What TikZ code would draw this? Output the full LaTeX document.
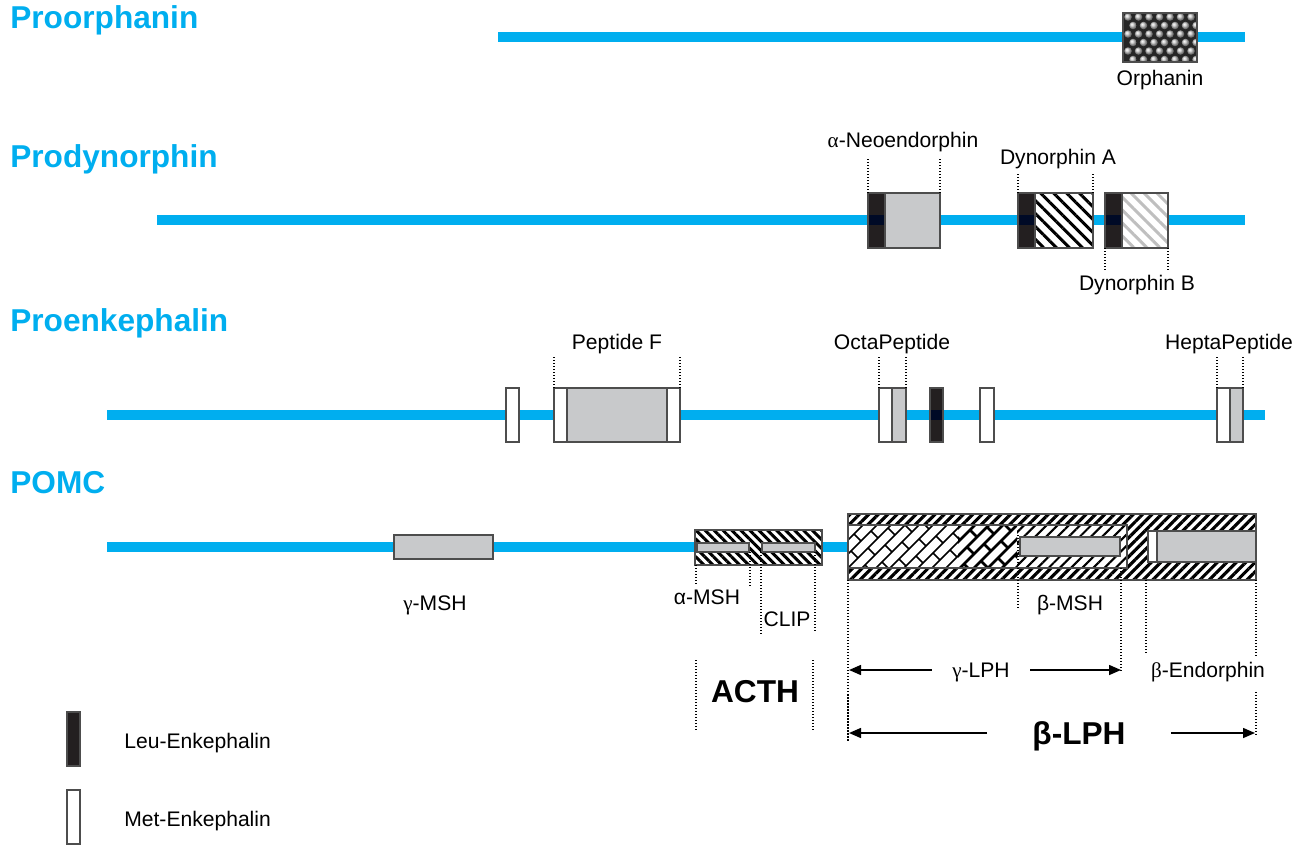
\documentclass[tikz,border=0pt]{standalone}
\usepackage{fontspec}
\setmainfont{Liberation Sans}
\newfontfamily\gr{Liberation Serif}
\usetikzlibrary{patterns.meta,arrows.meta}
\definecolor{cyanline}{HTML}{00AEEF}
\definecolor{boxgray}{HTML}{C8C9CB}
\definecolor{leu}{HTML}{231F20}
\definecolor{edge}{HTML}{4D4D4D}
\definecolor{navy}{HTML}{000A26}
\tikzset{
  chainline/.style={line width=0.2cm, cyanline},
  title/.style={anchor=base west, inner sep=0pt, font=\fontsize{18}{20}\selectfont\bfseries, text=cyanline},
  lbl/.style={anchor=base, inner sep=0pt, font=\fontsize{12}{14}\selectfont},
  big/.style={anchor=base, inner sep=0pt, font=\fontsize{18}{20}\selectfont\bfseries},
  grayb/.style={fill=boxgray, draw=edge, line width=0.03cm},
  leub/.style={fill=leu, draw=edge, line width=0.03cm},
  metb/.style={fill=white, draw=edge, line width=0.03cm},
  guide/.style={densely dotted, line width=0.025cm},
  hatchA/.style={draw=edge, line width=0.03cm, preaction={fill=white}, pattern={Lines[angle=-45,distance=5.2pt,line width=1.7pt]}},
  hatchB/.style={draw=edge, line width=0.03cm, preaction={fill=white}, pattern={Lines[angle=-45,distance=5.2pt,line width=1.7pt]}, pattern color=black!25},
  acthband/.style={draw=edge, line width=0.03cm, preaction={fill=white}, pattern={Lines[angle=-45,distance=3.6pt,line width=1.7pt]}},
  lphband/.style={draw=edge, line width=0.03cm, preaction={fill=white}, pattern={Lines[angle=45,distance=3.8pt,line width=1.8pt]}},
  lighthatch/.style={pattern={Lines[angle=45,distance=4.5pt,line width=1.2pt]}},
  arr/.style={-{Triangle[length=0.24cm,width=0.2cm]}, line width=0.03cm},
}
\begin{document}
\begin{tikzpicture}[x=0.02cm,y=-0.02cm]
\useasboundingbox (0,0) rectangle (1308,845);

% ---------- titles
\node[title] (t1) at (10,29) {Proorphanin};
\node[title] (t2) at (10,167) {Prodynorphin};
\node[title] (t3) at (10,331) {Proenkephalin};
\node[title] (t4) at (10,493) {POMC};

% ---------- Proorphanin
\draw[chainline] (498,37) -- (1245,37);
\fill[black!85] (1123,13) rectangle (1197,62);
\begin{scope}
\clip (1123,13) rectangle (1197,62);
\foreach \r in {0,...,5}{
  \foreach \c in {0,...,6}{
    \pgfmathsetmacro\xx{1128+\c*10.5+mod(\r,2)*5}
    \shade[ball color=white!60!gray] (\xx,{17+\r*8.5}) circle (3.8);
  }
}
\end{scope}
\draw[edge, line width=0.03cm] (1123,13) rectangle (1197,62);
\node[lbl] (orph) at (1160,85) {Orphanin};

% ---------- Prodynorphin
\draw[chainline] (157,220) -- (1245,220);
\draw[leub] (868,193) rectangle (885,248);
\fill[navy] (868.8,215) rectangle (884.2,225);
\draw[grayb] (885,193) rectangle (940,248);
\draw[leub] (1018,193) rectangle (1035,248);
\fill[navy] (1018.8,215) rectangle (1034.2,225);
\draw[hatchA] (1035,193) rectangle (1093,248);
\draw[leub] (1105,193) rectangle (1122,248);
\fill[navy] (1105.8,215) rectangle (1121.2,225);
\draw[hatchB] (1122,193) rectangle (1168,248);
\draw[guide] (868,193) -- (868,158);
\draw[guide] (940,193) -- (940,158);
\draw[guide] (1018,193) -- (1018,172);
\draw[guide] (1093,193) -- (1093,172);
\draw[guide] (1105,248) -- (1105,270);
\draw[guide] (1168,248) -- (1168,270);
\node[lbl] (aneo) at (903,147) {{\gr α}-Neoendorphin};
\node[lbl] (dyna) at (1058,164) {Dynorphin A};
\node[lbl] (dynb) at (1137,290) {Dynorphin B};

% ---------- Proenkephalin
\draw[chainline] (107,415) -- (1265,415);
\draw[metb] (506,388) rectangle (519,442);
\draw[metb] (554,388) rectangle (567,442);
\draw[grayb] (567,388) rectangle (667,442);
\draw[metb] (667,388) rectangle (680,442);
\draw[metb] (879,388) rectangle (892,442);
\draw[grayb] (892,388) rectangle (906,442);
\draw[leub] (930,388) rectangle (943,442);
\fill[navy] (930.8,410) rectangle (942.2,420);
\draw[metb] (980,388) rectangle (994,442);
\draw[metb] (1217,388) rectangle (1230,442);
\draw[grayb] (1230,388) rectangle (1243,442);
\draw[guide] (554,388) -- (554,357);
\draw[guide] (680,388) -- (680,357);
\draw[guide] (879,388) -- (879,357);
\draw[guide] (906,388) -- (906,357);
\draw[guide] (1217,388) -- (1217,357);
\draw[guide] (1243,388) -- (1243,357);
\node[lbl] (pepf) at (617,349) {Peptide F};
\node[lbl] (octa) at (892,349) {OctaPeptide};
\node[lbl] (hepta) at (1229,349) {HeptaPeptide};

% ---------- POMC
\draw[chainline] (107,547) -- (848,547);
\draw[grayb] (394,535) rectangle (493,559);
\node[lbl] (gmsh) at (435,610) {{\gr γ}-MSH};

% ACTH
\draw[acthband] (695,530) rectangle (822,565);
\draw[grayb] (697,543) rectangle (749,552);
\draw[grayb] (762,543) rectangle (815,552);
\draw[guide] (696,565) -- (696,586);
\draw[guide] (750,552) -- (750,586);
\draw[guide] (761,552) -- (761,636);
\draw[guide] (815,552) -- (815,633);
\node[lbl] (amsh) at (707,604) {α-MSH};
\node[lbl] (clip) at (787,626) {CLIP};
\draw[guide] (696,660) -- (696,730);
\draw[guide] (813,660) -- (813,730);
\node[big] (acth) at (755,702) {ACTH};

% beta-LPH block
\draw[lphband] (848,514) rectangle (1256,580);
\fill[white] (848,525) rectangle (1127,568);
\begin{scope}
  \clip (848,525) rectangle (1017,568);
  \foreach \k in {-4,...,13}{
    \draw[line width=0.03cm] (848+\k*14,568) -- ++(50,-50);
    \foreach \j in {-2,...,3}{
      \pgfmathsetmacro\tt{\j*20+3*\k}
      \draw[line width=0.03cm] (848+\k*14+\tt,568-\tt) -- ++(7,7);
    }
  }
\end{scope}
\begin{scope}
  \clip (958,525) rectangle (1017,568);
  \foreach \k in {3,...,13}{
    \draw[line width=0.055cm] (848+\k*14,568) -- ++(50,-50);
    \foreach \j in {-2,...,3}{
      \pgfmathsetmacro\tt{\j*20+3*\k}
      \draw[line width=0.055cm] (848+\k*14+\tt,568-\tt) -- ++(7,7);
    }
  }
\end{scope}
\fill[lighthatch] (1017,525) rectangle (1127,568);
\draw[grayb] (1020,537) rectangle (1120,556);
\draw[edge, line width=0.03cm] (848,525) rectangle (1127,568);
\draw[metb] (1148,531) rectangle (1157,562);
\draw[grayb] (1157,531) rectangle (1256,562);
\draw[edge, line width=0.03cm] (848,514) rectangle (1256,580);

\draw[guide] (848,580) -- (848,742);
\draw[guide] (1018,535) -- (1018,610);
\draw[guide] (1121,568) -- (1121,672);
\draw[guide] (1146,580) -- (1146,655);
\draw[guide] (1256,580) -- (1256,658);
\draw[guide] (1256,692) -- (1256,736);
\node[lbl] (bmsh) at (1070,610) {β-MSH};
\node[lbl] (bend) at (1208,677) {{\gr β}-Endorphin};

% arrows
\coordinate (gl) at (849,670);
\coordinate (gr) at (1121,670);
\coordinate (bl) at (849,733);
\coordinate (br) at (1255,733);
\node[lbl, inner xsep=0.4cm] (glph) at (981,677) {{\gr γ}-LPH};
\node[big, inner xsep=0.9cm] (blph) at (1079,744) {β-LPH};
\draw[arr] (glph.west |- gl) -- (gl);
\draw[arr] (glph.east |- gr) -- (gr);
\draw[arr] (blph.west |- bl) -- (bl);
\draw[arr] (blph.east |- br) -- (br);

% ---------- legend
\draw[leub] (67,712) rectangle (80,766);
\draw[metb] (67,790) rectangle (80,844);
\node[lbl, anchor=base west] (leul) at (124,748) {Leu-Enkephalin};
\node[lbl, anchor=base west] (metl) at (124,826) {Met-Enkephalin};
\end{tikzpicture}
\end{document}
